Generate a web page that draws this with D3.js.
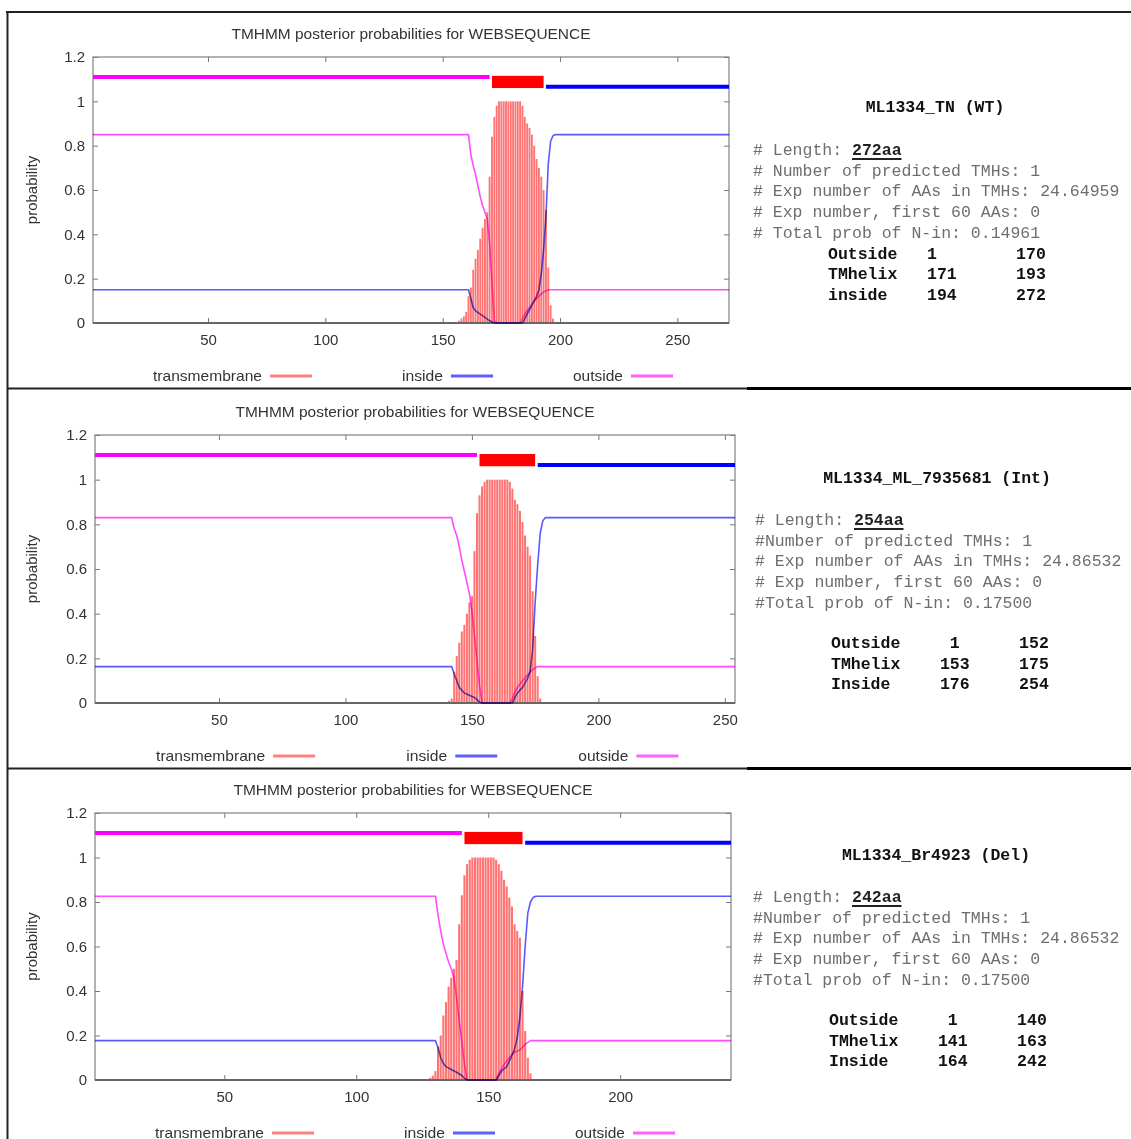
<!DOCTYPE html>
<html>
<head>
<meta charset="utf-8">
<script src="https://cdn.jsdelivr.net/npm/d3@7"></script>
<style>
  html, body { margin: 0; padding: 0; background: #fff; }
  svg { display: block; }
  .gp { font-family: "Liberation Sans", Arial, sans-serif; font-size: 15px; fill: #333; }
  .mono { font-family: "Liberation Mono", "Courier New", monospace; font-size: 16.5px; }
  .prob { fill: none; mix-blend-mode: multiply; stroke-linejoin: round; }
</style>
</head>
<body>
<svg id="chart" width="1131" height="1139"></svg>
<script>
(function() {
  'use strict';

  // --- values ---
  var seqNames = ['ML1334_TN (WT)', 'ML1334_ML_7935681 (Int)', 'ML1334_Br4923 (Del)'];
  var seqLengths = [272, 254, 242];
  var lengthLabels = ['272aa', '254aa', '242aa'];
  var infoLines = [
    ['# Number of predicted TMHs: 1', '# Exp number of AAs in TMHs: 24.64959',
     '# Exp number, first 60 AAs: 0', '# Total prob of N-in: 0.14961'],
    ['#Number of predicted TMHs: 1', '# Exp number of AAs in TMHs: 24.86532',
     '# Exp number, first 60 AAs: 0', '#Total prob of N-in: 0.17500'],
    ['#Number of predicted TMHs: 1', '# Exp number of AAs in TMHs: 24.86532',
     '# Exp number, first 60 AAs: 0', '#Total prob of N-in: 0.17500']
  ];
  var topology = [
    [['Outside', 1, 170], ['TMhelix', 171, 193], ['inside', 194, 272]],
    [['Outside', 1, 152], ['TMhelix', 153, 175], ['Inside', 176, 254]],
    [['Outside', 1, 140], ['TMhelix', 141, 163], ['Inside', 164, 242]]
  ];

  // transmembrane posterior, one value per residue from tmStart
  var tmStart = [157, 141, 128];
  var tmProb = [
    [0.01, 0.02, 0.03, 0.05, 0.12, 0.16, 0.24, 0.29, 0.33, 0.38, 0.43, 0.47, 0.50, 0.66,
     0.84, 0.93, 0.98, 1, 1, 1, 1, 1, 1, 1, 1, 1, 1, 0.98, 0.93, 0.90, 0.88, 0.85, 0.80,
     0.74, 0.70, 0.66, 0.60, 0.51, 0.25, 0.08, 0.02],
    [0.01, 0.02, 0.14, 0.21, 0.27, 0.32, 0.35, 0.40, 0.45, 0.48, 0.68, 0.85, 0.93, 0.97,
     0.99, 1, 1, 1, 1, 1, 1, 1, 1, 1, 0.99, 0.96, 0.91, 0.89, 0.86, 0.81, 0.75, 0.70,
     0.66, 0.50, 0.30, 0.12, 0.02],
    [0.01, 0.02, 0.04, 0.15, 0.20, 0.29, 0.35, 0.42, 0.46, 0.50, 0.54, 0.70, 0.83, 0.92,
     0.97, 0.99, 1, 1, 1, 1, 1, 1, 1, 1, 1, 0.99, 0.97, 0.94, 0.90, 0.87, 0.82, 0.78,
     0.70, 0.67, 0.64, 0.40, 0.22, 0.10, 0.03]
  ];

  // inside / outside posterior as [residue, probability]
  var insideProb = [
    [[1, 0.15], [161, 0.15], [162, 0.11], [163, 0.07], [164, 0.055], [166, 0.04], [168, 0.025],
     [170, 0.01], [172, 0], [184, 0], [185, 0.02], [186, 0.04], [188, 0.08], [190, 0.12],
     [191, 0.15], [192, 0.22], [193, 0.33], [194, 0.48], [195, 0.72], [196, 0.82],
     [197, 0.845], [198, 0.85], [272, 0.85]],
    [[1, 0.163], [142, 0.163], [143, 0.13], [144, 0.10], [145, 0.07], [147, 0.045],
     [149, 0.035], [151, 0.025], [153, 0.005], [154, 0], [166, 0], [167, 0.025], [168, 0.045],
     [170, 0.07], [172, 0.11], [173, 0.14], [174, 0.24], [175, 0.45], [176, 0.62],
     [177, 0.76], [178, 0.815], [179, 0.83], [254, 0.83]],
    [[1, 0.177], [130, 0.177], [131, 0.145], [132, 0.10], [133, 0.075], [134, 0.06],
     [136, 0.047], [138, 0.035], [140, 0.02], [141, 0.008], [142, 0], [153, 0], [154, 0.02],
     [155, 0.04], [157, 0.06], [159, 0.11], [160, 0.14], [161, 0.19], [162, 0.28],
     [163, 0.42], [164, 0.60], [165, 0.75], [166, 0.80], [167, 0.82], [168, 0.826],
     [242, 0.826]]
  ];
  var outsideProb = [
    [[1, 0.85], [161, 0.85], [162, 0.76], [163, 0.71], [164, 0.67], [165, 0.62], [166, 0.57],
     [167, 0.53], [168, 0.50], [169, 0.47], [170, 0.36], [171, 0.18], [172, 0.01], [173, 0],
     [183, 0], [184, 0.02], [185, 0.04], [186, 0.055], [187, 0.07], [188, 0.085], [189, 0.10],
     [190, 0.11], [191, 0.12], [192, 0.13], [193, 0.14], [195, 0.15], [272, 0.15]],
    [[1, 0.83], [142, 0.83], [143, 0.78], [144, 0.75], [145, 0.70], [146, 0.64], [147, 0.59],
     [148, 0.54], [149, 0.49], [150, 0.41], [151, 0.30], [152, 0.19], [153, 0.08], [154, 0],
     [165, 0], [166, 0.02], [167, 0.05], [168, 0.07], [169, 0.085], [170, 0.10],
     [172, 0.125], [174, 0.15], [176, 0.163], [254, 0.163]],
    [[1, 0.826], [130, 0.826], [131, 0.74], [132, 0.67], [133, 0.61], [134, 0.57],
     [135, 0.53], [136, 0.50], [137, 0.46], [138, 0.37], [139, 0.27], [140, 0.17],
     [141, 0.07], [142, 0], [153, 0], [154, 0.03], [155, 0.05], [156, 0.07], [157, 0.085],
     [158, 0.10], [159, 0.115], [160, 0.125], [162, 0.135], [164, 0.16], [166, 0.177],
     [242, 0.177]]
  ];

  var xTicks = [[50, 100, 150, 200, 250], [50, 100, 150, 200, 250], [50, 100, 150, 200]];
  var yTicks = [0, 0.2, 0.4, 0.6, 0.8, 1, 1.2];
  var legendLabels = ['transmembrane', 'inside', 'outside'];
  var plotTitle = 'TMHMM posterior probabilities for WEBSEQUENCE';

  // --- layout (pixels) ---
  var boxes = [
    {l: 93, r: 729, t: 57, b: 323, infoX: 753, infoY: 155, nameX: 935, nameY: 112,
      tableX: 828, tableY: 258.5, col2: 'left'},
    {l: 95, r: 735, t: 435, b: 703, infoX: 755, infoY: 525, nameX: 937, nameY: 483,
      tableX: 831, tableY: 648, col2: 'center'},
    {l: 95, r: 731, t: 813, b: 1080, infoX: 753, infoY: 902, nameX: 936, nameY: 860,
      tableX: 829, tableY: 1025, col2: 'center'}
  ];
  var lineGap = 20.7,
    charW = 16.5 * 0.6,
    legendLine = [177, 358, 538],
    legendText = [109, 41, 50],
    legendColor = ['#ff8080', '#6060ff', '#ff60ff'];

  var svg = d3.select('#chart');
  svg.append('rect').attr('width', 1131).attr('height', 1139).attr('fill', '#fff');

  boxes.forEach(function(bx, i) {
    var g = svg.append('g'),
      w = bx.r - bx.l,
      x = d3.scaleLinear().domain([1, seqLengths[i]]).range([bx.l, bx.r]),
      y = d3.scaleLinear().domain([0, 1.2]).range([bx.b, bx.t]),
      unit = x(2) - x(1);

    g.append('text').attr('class', 'gp')
      .attr('x', (bx.l + bx.r) / 2).attr('y', bx.t - 18.5)
      .attr('text-anchor', 'middle')
      .attr('textLength', 359).attr('lengthAdjust', 'spacingAndGlyphs')
      .text(plotTitle);

    g.append('text').attr('class', 'gp')
      .attr('transform', 'translate(32,' + ((bx.t + bx.b) / 2) + ') rotate(-90)')
      .attr('text-anchor', 'middle').attr('dy', '0.35em')
      .text('probability');

    // axes, ticks pointing inward on all four sides
    var styleAxis = function(sel) {
      sel.select('.domain').remove();
      sel.selectAll('.tick line').attr('stroke', '#777');
      sel.selectAll('.tick text').attr('class', 'gp').attr('fill', null)
        .style('font-size', '15px');
    };
    g.append('g').attr('transform', 'translate(0,' + bx.b + ')')
      .call(d3.axisBottom(x).tickValues(xTicks[i]).tickSize(-5).tickPadding(11))
      .call(styleAxis);
    g.append('g').attr('transform', 'translate(0,' + bx.t + ')')
      .call(d3.axisTop(x).tickValues(xTicks[i]).tickSize(-5).tickFormat(''))
      .call(styleAxis);
    g.append('g').attr('transform', 'translate(' + bx.l + ',0)')
      .call(d3.axisLeft(y).tickValues(yTicks).tickSize(-5).tickPadding(8).tickFormat(d3.format('')))
      .call(styleAxis);
    g.append('g').attr('transform', 'translate(' + bx.r + ',0)')
      .call(d3.axisRight(y).tickValues(yTicks).tickSize(-5).tickFormat(''))
      .call(styleAxis);

    g.append('rect')
      .attr('x', bx.l).attr('y', bx.t).attr('width', w).attr('height', bx.b - bx.t)
      .attr('fill', 'none').attr('stroke', '#808080').attr('stroke-width', 1.2);

    // transmembrane impulses
    g.append('g').selectAll('line')
      .data(tmProb[i])
      .join('line')
      .attr('x1', function(d, j) { return x(tmStart[i] + j); })
      .attr('x2', function(d, j) { return x(tmStart[i] + j); })
      .attr('y1', y(0))
      .attr('y2', function(d) { return y(d); })
      .attr('stroke', '#ff7373')
      .attr('stroke-width', unit * 0.8);

    g.append('line')
      .attr('x1', bx.l).attr('x2', bx.r).attr('y1', bx.b).attr('y2', bx.b)
      .attr('stroke', '#666').attr('stroke-width', 2);

    var line = d3.line()
      .x(function(d) { return x(d[0]); })
      .y(function(d) { return y(d[1]); });
    g.append('path').attr('class', 'prob').attr('d', line(insideProb[i]))
      .attr('stroke', '#5a5aff').attr('stroke-width', 1.6);
    g.append('path').attr('class', 'prob').attr('d', line(outsideProb[i]))
      .attr('stroke', '#ff4cff').attr('stroke-width', 1.6);

    // predicted topology above the curves
    topology[i].forEach(function(seg) {
      if (seg[0] === 'TMhelix') {
        g.append('rect')
          .attr('x', x(seg[1])).attr('width', x(seg[2]) - x(seg[1]))
          .attr('y', y(1.115)).attr('height', y(1.06) - y(1.115))
          .attr('fill', '#ff0000');
      } else {
        var lvl = seg[0] === 'Outside' ? 1.11 : 1.066;
        g.append('line')
          .attr('x1', x(seg[1])).attr('x2', x(seg[2]))
          .attr('y1', y(lvl)).attr('y2', y(lvl))
          .attr('stroke', seg[0] === 'Outside' ? '#ff00ff' : '#0000ff')
          .attr('stroke-width', 4);
      }
    });

    // legend
    legendLabels.forEach(function(lab, k) {
      var lx = bx.l + legendLine[k] * w / 636,
        ly = bx.b + 53;
      g.append('text').attr('class', 'gp')
        .attr('x', lx - 8).attr('y', ly + 4.5).attr('text-anchor', 'end')
        .attr('textLength', legendText[k]).attr('lengthAdjust', 'spacingAndGlyphs')
        .text(lab);
      g.append('line')
        .attr('x1', lx).attr('x2', lx + 42).attr('y1', ly).attr('y2', ly)
        .attr('stroke', legendColor[k]).attr('stroke-width', 3);
    });

    // TMHMM text summary on the right
    g.append('text').attr('class', 'mono')
      .attr('x', bx.nameX).attr('y', bx.nameY).attr('text-anchor', 'middle')
      .attr('font-weight', 'bold').attr('fill', '#111')
      .text(seqNames[i]);

    var len = g.append('text').attr('class', 'mono')
      .attr('x', bx.infoX).attr('y', bx.infoY).attr('fill', '#6e6e6e')
      .attr('xml:space', 'preserve').style('white-space', 'pre');
    len.append('tspan').text('# Length: ');
    len.append('tspan').attr('font-weight', 'bold').attr('fill', '#222').text(lengthLabels[i]);
    g.append('line')
      .attr('x1', bx.infoX + 10 * charW).attr('x2', bx.infoX + 15 * charW)
      .attr('y1', bx.infoY + 4).attr('y2', bx.infoY + 4)
      .attr('stroke', '#222').attr('stroke-width', 2);

    g.selectAll('text.info')
      .data(infoLines[i])
      .join('text')
      .attr('class', 'mono info')
      .attr('x', bx.infoX)
      .attr('y', function(d, j) { return bx.infoY + (j + 1) * lineGap; })
      .attr('fill', '#6e6e6e')
      .style('white-space', 'pre')
      .text(function(d) { return d; });

    topology[i].forEach(function(seg, j) {
      var ty = bx.tableY + j * lineGap,
        row = g.append('g').attr('font-weight', 'bold').attr('fill', '#111');
      row.append('text').attr('class', 'mono').attr('x', bx.tableX).attr('y', ty).text(seg[0]);
      row.append('text').attr('class', 'mono')
        .attr('x', bx.tableX + (bx.col2 === 'left' ? 10 : 12.5) * charW)
        .attr('text-anchor', bx.col2 === 'left' ? 'start' : 'middle')
        .attr('y', ty).text(seg[1]);
      row.append('text').attr('class', 'mono')
        .attr('x', bx.tableX + 19 * charW).attr('y', ty).text(seg[2]);
    });
  });

  // frame of the composite figure
  var frame = svg.append('g').attr('stroke', '#222');
  frame.append('line').attr('x1', 6).attr('x2', 1131).attr('y1', 12).attr('y2', 12)
    .attr('stroke-width', 2);
  frame.append('line').attr('x1', 7.5).attr('x2', 7.5).attr('y1', 11).attr('y2', 1139)
    .attr('stroke-width', 2);
  [388.5, 768.5].forEach(function(sy) {
    frame.append('line').attr('x1', 7).attr('x2', 1131).attr('y1', sy).attr('y2', sy)
      .attr('stroke-width', 2);
    frame.append('line').attr('x1', 747).attr('x2', 1131).attr('y1', sy).attr('y2', sy)
      .attr('stroke', '#000').attr('stroke-width', 3);
  });
}());
</script>
</body>
</html>
